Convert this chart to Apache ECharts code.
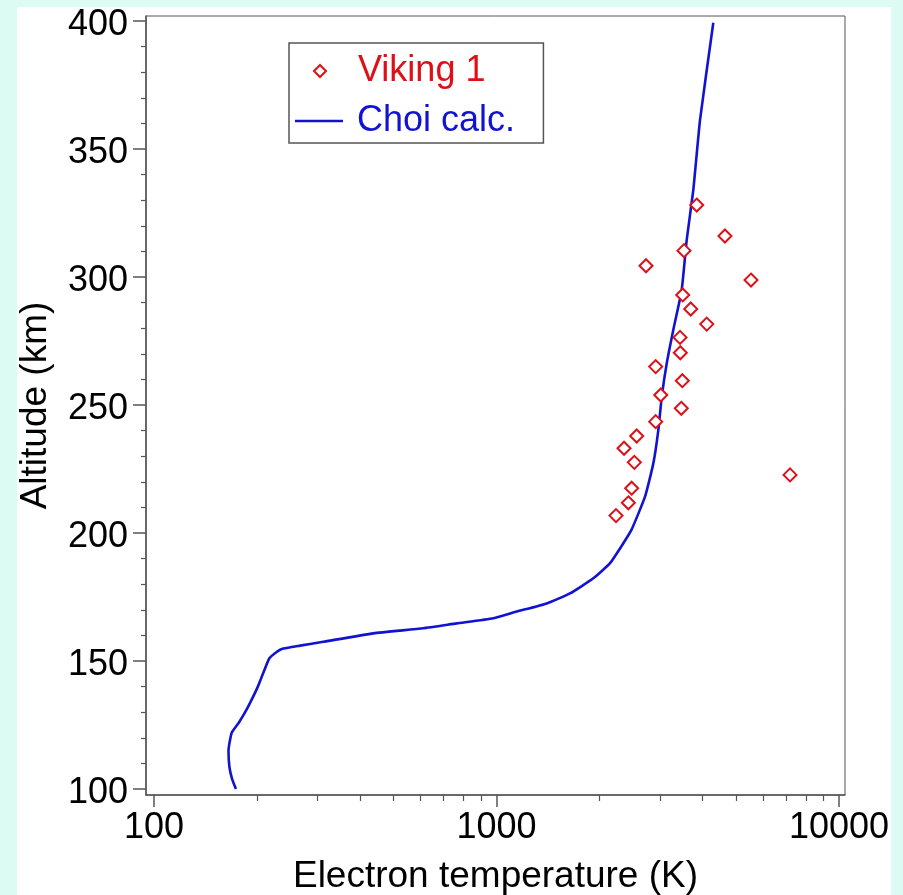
<!DOCTYPE html>
<html>
<head>
<meta charset="utf-8">
<script src="https://cdn.jsdelivr.net/npm/echarts@6/dist/echarts.min.js"></script>
<style>
  html, body { margin: 0; padding: 0; width: 903px; height: 895px; background: #dbfbf3; overflow: hidden; }
  #chart { position: absolute; left: 17px; top: 7px; width: 874px; height: 888px; background: #ffffff; }
</style>
</head>
<body>
<div id="chart"></div>
<script>
// Viking 1 retarding potential analyzer electron temperatures
const vikingTemp = [3842, 4645, 3527, 2732, 5534, 3497, 3690, 4110, 3434, 3441, 2916,
                    3488, 3017, 3463, 2916, 2566, 2357, 2526, 7194, 2481, 2426, 2233];
const vikingAlt  = [328.1, 316.0, 310.3, 304.4, 298.8, 293.0, 287.5, 281.6, 276.4, 270.4, 265.0,
                    259.5, 253.9, 248.7, 243.5, 237.9, 233.1, 227.6, 222.7, 217.5, 211.8, 206.8];

// Model electron temperature profile (Choi calculation)
const choiTemp = [173.5, 169, 166, 165, 168.6, 177, 185.6, 193, 201, 208, 217, 228, 236, 267,
                  312, 437, 611, 765, 979, 1146, 1402, 1639, 1917, 2145, 2346, 2481, 2714,
                  2870, 2968, 3037, 3141, 3282, 3473, 3592, 3755, 3928, 4295];
const choiAlt  = [100, 104, 108.7, 115, 122, 126, 130.6, 135, 140, 145, 151, 153.5, 154.7, 156,
                  157.5, 160.8, 162.8, 164.7, 166.7, 169.3, 172.5, 176.4, 182.3, 188.2, 196, 201.4, 214.2,
                  227.2, 240.2, 253.2, 266.3, 279.3, 294.9, 314.5, 334, 361.3, 399.3];

// Axis ticks and labels
const xMajorTicks = [100, 1000, 10000];
const xMinorTicks = [200, 300, 400, 500, 600, 700, 800, 900,
                     2000, 3000, 4000, 5000, 6000, 7000, 8000, 9000];
const yMajorTicks = [100, 150, 200, 250, 300, 350, 400];
const yMinorTicks = [110, 120, 130, 140, 160, 170, 180, 190, 210, 220, 230, 240,
                     260, 270, 280, 290, 310, 320, 330, 340, 360, 370, 380, 390];

const xRange = [94.76, 10411];
const yRange = [97.66, 401.95];

const FONT = '"Liberation Sans", Arial, Helvetica, sans-serif';
const RED = '#dd1018';
const BLUE = '#1212d2';
const AXIS = '#555555';

const chart = echarts.init(document.getElementById('chart'), null, { renderer: 'canvas' });

const xBase = { type: 'log', logBase: 10, min: xRange[0], max: xRange[1], gridIndex: 0, position: 'bottom' };
const yBase = { type: 'value', min: yRange[0], max: yRange[1], gridIndex: 0, position: 'left' };

const legendText = { fontSize: 36, fontFamily: FONT };

chart.setOption({
  animation: false,
  textStyle: { fontFamily: FONT },
  grid: {
    left: 129, right: 46, top: 9, bottom: 100,
    containLabel: false,
    outerBoundsMode: 'none',
    show: true, borderColor: AXIS, borderWidth: 1, backgroundColor: '#ffffff'
  },
  legend: [
    {
      // framed box holding the data-point entry
      orient: 'vertical',
      left: 272, top: 36,
      padding: [10, 58, 54, 24],
      itemWidth: 12, itemHeight: 12,
      borderColor: AXIS, borderWidth: 1.5,
      backgroundColor: '#ffffff',
      data: [{ name: 'Viking 1', icon: 'emptyDiamond', textStyle: { color: RED } }],
      itemStyle: { borderWidth: 2.4 },
      textStyle: Object.assign({ padding: [0, 0, 0, 27] }, legendText),
      z: 5
    },
    {
      // model curve entry, drawn inside the same box
      orient: 'vertical',
      left: 272, top: 81,
      padding: [15, 0, 0, 6],
      itemWidth: 48, itemHeight: 2.5,
      data: [{ name: 'Choi calc.', icon: 'rect', textStyle: { color: BLUE } }],
      itemStyle: { color: BLUE },
      textStyle: Object.assign({ padding: [0, 0, 0, 9] }, legendText),
      z: 6
    }
  ],
  xAxis: [
    Object.assign({}, xBase, {
      name: 'Electron temperature (K)',
      nameLocation: 'middle',
      nameGap: 63,
      nameTextStyle: { fontSize: 37, color: '#000', fontFamily: FONT },
      axisLine: { show: true, lineStyle: { color: AXIS, width: 1.5 } },
      axisTick: { show: true, length: 12, customValues: xMajorTicks, lineStyle: { color: AXIS, width: 1.5 } },
      axisLabel: { customValues: xMajorTicks, margin: 15, fontSize: 36, color: '#000', fontFamily: FONT,
                   formatter: v => String(Math.round(v)) },
      splitLine: { show: false }
    }),
    Object.assign({}, xBase, {
      axisLine: { show: false },
      axisTick: { show: true, length: 6, customValues: xMinorTicks, lineStyle: { color: AXIS, width: 1.2 } },
      axisLabel: { show: false },
      splitLine: { show: false }
    })
  ],
  yAxis: [
    Object.assign({}, yBase, {
      name: 'Altitude (km)',
      nameLocation: 'middle',
      nameGap: 92,
      nameTextStyle: { fontSize: 37, color: '#000', fontFamily: FONT },
      axisLine: { show: true, lineStyle: { color: AXIS, width: 1.5 } },
      axisTick: { show: true, length: 13, customValues: yMajorTicks, lineStyle: { color: AXIS, width: 1.5 } },
      axisLabel: {
        customValues: yMajorTicks, margin: 18, color: '#000',
        formatter: v => '{t|' + Math.round(v) + '}',
        rich: { t: { fontSize: 36, fontFamily: FONT, color: '#000', padding: [8, 0, 0, 0] } }
      },
      splitLine: { show: false }
    }),
    Object.assign({}, yBase, {
      axisLine: { show: false },
      axisTick: { show: true, length: 5, customValues: yMinorTicks, lineStyle: { color: AXIS, width: 1.2 } },
      axisLabel: { show: false },
      splitLine: { show: false }
    })
  ],
  series: [
    {
      name: 'Viking 1',
      type: 'scatter',
      xAxisIndex: 0, yAxisIndex: 0,
      symbol: 'emptyDiamond',
      symbolSize: 13,
      itemStyle: { color: RED, borderColor: RED, borderWidth: 2.6, opacity: 1 },
      data: vikingTemp.map((t, i) => [t, vikingAlt[i]]),
      z: 3
    },
    {
      name: 'Choi calc.',
      type: 'line',
      xAxisIndex: 0, yAxisIndex: 0,
      symbol: 'none',
      showSymbol: false,
      smooth: 0.15,
      lineStyle: { color: BLUE, width: 2.6 },
      itemStyle: { color: BLUE },
      data: choiTemp.map((t, i) => [t, choiAlt[i]]),
      z: 2
    }
  ]
});
</script>
</body>
</html>
